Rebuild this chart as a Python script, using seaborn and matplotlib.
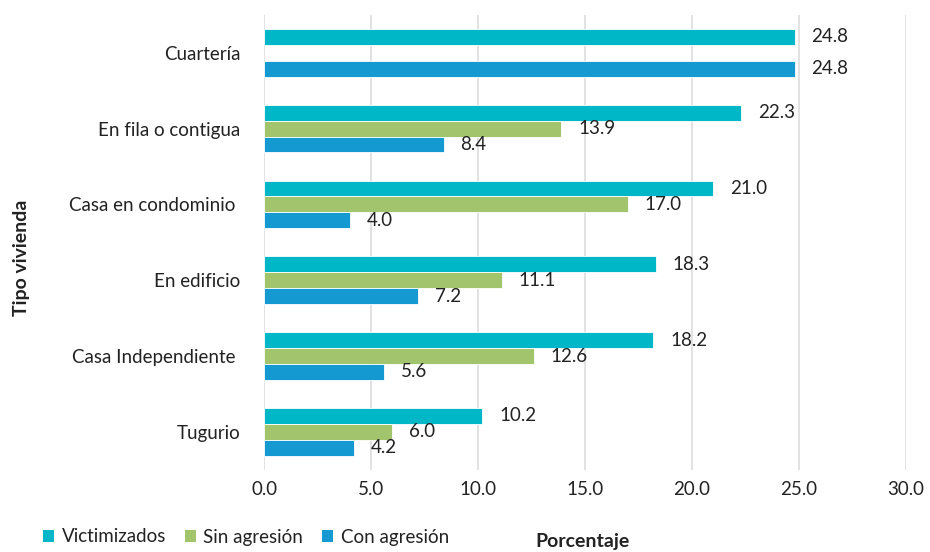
import numpy as np
import pandas as pd
import matplotlib
matplotlib.use("Agg")
import matplotlib.pyplot as plt
import seaborn as sns
from matplotlib.patches import Patch

categories = ["Cuartería", "En fila o contigua", "Casa en condominio ", "En edificio",
              "Casa Independiente ", "Tugurio"]
series = ["Victimizados", "Sin agresión", "Con agresión"]
victimizados = [24.8, 22.3, 21.0, 18.3, 18.2, 10.2]
sin_agresion = [np.nan, 13.9, 17.0, 11.1, 12.6, 6.0]
con_agresion = [24.8, 8.4, 4.0, 7.2, 5.6, 4.2]
colors = ["#00B7C8", "#A2C46C", "#1499D0"]
xticks = [0, 5, 10, 15, 20, 25, 30]

rows = []
for name, vals in zip(series, [victimizados, sin_agresion, con_agresion]):
    for c, v in zip(categories, vals):
        rows.append({"Tipo": c, "Serie": name, "Valor": v})
df = pd.DataFrame(rows)

sns.set_theme(style="white")
plt.rcParams["font.family"] = ["Lato", "DejaVu Sans"]
txt = "#222222"

fig = plt.figure(figsize=(9.3, 5.52), dpi=100)
ax = fig.add_axes([0.284, 0.149, 0.690, 0.824])

sns.barplot(data=df, y="Tipo", x="Valor", hue="Serie", order=categories,
            hue_order=series, palette=colors, saturation=1, orient="h", width=0.63,
            edgecolor="white", linewidth=0.6, ax=ax, legend=False)

for cont in ax.containers:
    labels = ["" if np.isnan(b.get_width()) else f"{b.get_width():.1f}" for b in cont]
    ax.bar_label(cont, labels=labels, padding=12, fontsize=13.5, color=txt)

ax.set_xlim(0, 30)
ax.set_xticks(xticks)
ax.set_xticklabels([f"{t:.1f}" for t in xticks], fontsize=13.5, color=txt)
ax.tick_params(axis="y", labelsize=13.5, colors=txt, length=0, pad=17)
ax.tick_params(axis="x", length=0, pad=8)
ax.grid(axis="x", color="#DDDDDD", linewidth=1.2)
ax.set_axisbelow(True)
for s in ax.spines.values():
    s.set_visible(False)
ax.set_xlabel("")
ax.set_ylabel("")

fig.text(22 / 930, 1 - 258 / 552, "Tipo vivienda", rotation=90, ha="center", va="center",
         fontsize=14, fontweight="bold", color=txt)
fig.text(582 / 930, 1 - 541 / 552, "Porcentaje", ha="center", va="center",
         fontsize=14, fontweight="bold", color=txt)

handles = [Patch(facecolor=c, edgecolor="none") for c in colors]
fig.legend(handles, series, loc="center left", bbox_to_anchor=(0.036, 1 - 537 / 552),
           ncol=3, frameon=False, fontsize=13.5, handlelength=0.6, handleheight=0.6,
           handletextpad=0.4, columnspacing=1.0, labelcolor=txt, borderpad=0)

fig.savefig("out.png", dpi=100)
